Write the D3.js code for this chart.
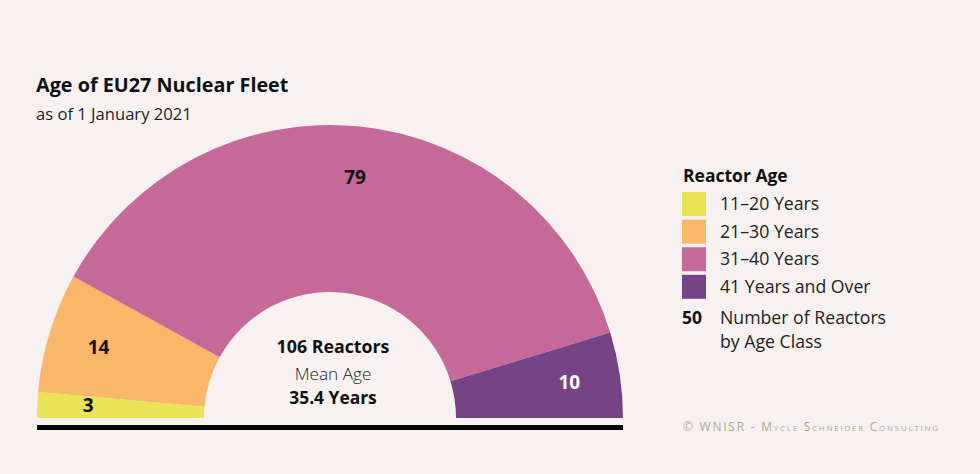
<!DOCTYPE html>
<html>
<head>
<meta charset="utf-8">
<script src="https://cdn.jsdelivr.net/npm/d3@7"></script>
<style>
  html, body { margin: 0; padding: 0; background: #f7f2f1; }
  svg { display: block; }
  text { font-family: "Open Sans", Roboto, sans-serif; }
</style>
</head>
<body>
<svg id="chart" width="980" height="474"></svg>
<script>
const categories = ["11–20 Years", "21–30 Years", "31–40 Years", "41 Years and Over"];
const reactorCounts = [3, 14, 79, 10];
const colors = ["#e8e456", "#f9b76a", "#c56a98", "#764486"];
const labelColors = ["#111", "#111", "#111", "#fff"];
const titleText = "Age of EU27 Nuclear Fleet";
const subtitleText = "as of 1 January 2021";
const legendTitle = "Reactor Age";
const totalText = "106 Reactors";
const meanLabel = "Mean Age";
const meanValue = "35.4 Years";
const footer = "© WNISR - Mycle Schneider Consulting";

const svg = d3.select("#chart");
const W = 980, H = 474;
svg.append("rect").attr("width", W).attr("height", H).attr("fill", "#f7f2f1");

const cx = 330, cy = 418, rOuter = 293, rInner = 126;

const pie = d3.pie().sort(null).value(d => d).startAngle(-Math.PI / 2).endAngle(Math.PI / 2);
const arc = d3.arc().innerRadius(rInner).outerRadius(rOuter);
const labelArc = d3.arc().innerRadius(242).outerRadius(242);

const g = svg.append("g").attr("transform", `translate(${cx},${cy})`);
const arcs = pie(reactorCounts);
g.selectAll("path.slice").data(arcs).join("path")
  .attr("class", "slice")
  .attr("d", arc)
  .attr("fill", (d, i) => colors[i]);

g.selectAll("text.val").data(arcs).join("text")
  .attr("class", "val")
  .attr("x", d => labelArc.centroid(d)[0])
  .attr("y", d => Math.min(labelArc.centroid(d)[1], -13))
  .attr("dy", "0.35em")
  .attr("text-anchor", "middle")
  .attr("font-weight", 700)
  .attr("font-size", 19)
  .attr("fill", (d, i) => labelColors[i])
  .text(d => d.data);

// baseline bar
svg.append("rect")
  .attr("x", cx - rOuter).attr("y", cy + 7)
  .attr("width", rOuter * 2).attr("height", 5)
  .attr("fill", "#000");

// center text
g.append("text").attr("x", 3).attr("y", -65).attr("text-anchor", "middle")
  .attr("font-weight", 700).attr("font-size", 17.8).attr("fill", "#111").text(totalText);
g.append("text").attr("x", 3).attr("y", -38).attr("text-anchor", "middle")
  .attr("font-weight", 300).attr("font-size", 17.2).attr("fill", "#222").text(meanLabel);
g.append("text").attr("x", 3).attr("y", -14).attr("text-anchor", "middle")
  .attr("font-weight", 700).attr("font-size", 17.4).attr("fill", "#111").text(meanValue);

// titles
svg.append("text").attr("x", 36).attr("y", 92)
  .attr("font-weight", 700).attr("font-size", 19.8).attr("fill", "#111").text(titleText);
svg.append("text").attr("x", 36).attr("y", 120)
  .attr("font-size", 16.6).attr("fill", "#222").text(subtitleText);

// legend
const lx = 682;
svg.append("text").attr("x", lx + 1).attr("y", 182)
  .attr("font-weight", 700).attr("font-size", 17.5).attr("fill", "#111").text(legendTitle);
const lg = svg.append("g");
const rows = lg.selectAll("g").data(categories).join("g")
  .attr("transform", (d, i) => `translate(${lx},${192 + i * 27.6})`);
rows.append("rect").attr("width", 24).attr("height", 24).attr("fill", (d, i) => colors[i]);
rows.append("text").attr("x", 38).attr("y", 12).attr("dy", "0.35em")
  .attr("font-size", 17.7).attr("fill", "#222").text(d => d);

svg.append("text").attr("x", lx).attr("y", 324)
  .attr("font-weight", 700).attr("font-size", 17.5).attr("fill", "#111").text("50");
svg.append("text").attr("x", lx + 38).attr("y", 324)
  .attr("font-size", 17.7).attr("fill", "#222").text("Number of Reactors");
svg.append("text").attr("x", lx + 38).attr("y", 348)
  .attr("font-size", 17.7).attr("fill", "#222").text("by Age Class");

// footer
svg.append("text").attr("x", 683).attr("y", 431)
  .attr("font-size", 12).attr("letter-spacing", 1.75)
  .style("font-variant", "small-caps")
  .attr("fill", "#b3a88f").text(footer);
</script>
</body>
</html>
